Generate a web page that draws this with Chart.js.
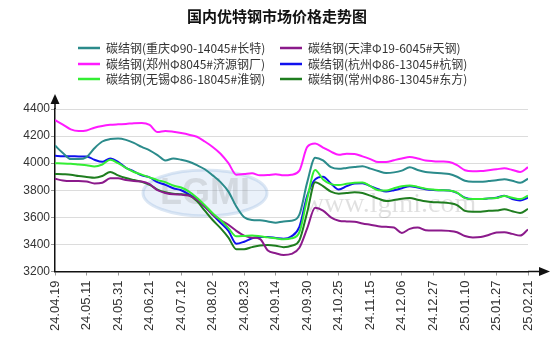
<!DOCTYPE html>
<html>
<head>
<meta charset="utf-8">
<script src="https://cdn.jsdelivr.net/npm/chart.js@4.4.1/dist/chart.umd.min.js"></script>
<style>
  html, body { margin: 0; padding: 0; background: #fff; }
  #wrap { width: 554px; height: 346px; }
</style>
</head>
<body>
<div id="wrap"><canvas id="steelChart" width="554" height="346"></canvas></div>
<script>
// tick labels on the x axis (one every 4 samples)
const dateLabels = ['24.04.19','24.05.11','24.05.31','24.06.21','24.07.12','24.08.02','24.08.23','24.09.14',
    '24.09.30','24.10.25','24.11.15','24.12.06','24.12.27','25.01.10','25.01.27','25.02.21'];
const STEP = 4;

const seriesNames = [
    '碳结钢(重庆Φ90-14045#长特)',
    '碳结钢(天津Φ19-6045#天钢)',
    '碳结钢(郑州Φ8045#济源钢厂)',
    '碳结钢(杭州Φ86-13045#杭钢)',
    '碳结钢(无锡Φ86-18045#淮钢)',
    '碳结钢(常州Φ86-13045#东方)'
];
const seriesColors = ['#2b8b8b', '#8b1a8b', '#ff1aff', '#1010ee', '#33ee33', '#1f7d1f'];

const chongqing = [4130,4075,4030,4030,4045,4110,4160,4178,4182,4172,4150,4120,4095,4060,4020,4035,
    4025,4010,3985,3955,3910,3860,3790,3680,3600,3580,3578,3570,3560,3570,3575,3620,3860,4040,4020,3970,
    3958,3965,3972,3978,3960,3942,3928,3932,3945,3970,3950,3935,3930,3925,3920,3900,3870,3862,3862,3868,
    3873,3882,3870,3855,3885];
const tianjin = [3885,3872,3868,3868,3865,3850,3855,3888,3888,3875,3868,3865,3845,3800,3780,3770,
    3768,3760,3730,3680,3620,3580,3545,3500,3465,3450,3440,3355,3335,3322,3330,3375,3520,3670,3650,3600,
    3575,3570,3568,3555,3545,3535,3530,3525,3485,3515,3525,3505,3502,3502,3500,3490,3462,3452,3455,3470,
    3488,3490,3478,3465,3510];
const zhengzhou = [4318,4285,4250,4238,4242,4262,4275,4283,4287,4290,4295,4296,4282,4230,4238,4232,
    4222,4210,4195,4160,4120,4070,4000,3915,3920,3925,3910,3912,3918,3910,3915,3945,4120,4145,4115,4085,
    4062,4070,4068,4050,4030,4008,4008,4022,4035,4045,4035,4020,4015,4012,4008,3985,3948,3940,3942,3948,
    3955,3962,3950,3935,3970];
const hangzhou = [4055,4052,4052,4050,4050,4025,4010,4035,4010,3965,3940,3910,3895,3860,3840,3815,
    3800,3770,3735,3680,3620,3560,3500,3405,3420,3445,3455,3455,3448,3442,3460,3530,3760,3880,3900,3850,
    3805,3830,3850,3852,3830,3808,3790,3800,3815,3830,3820,3808,3802,3800,3798,3780,3745,3735,3735,3740,
    3745,3760,3735,3725,3745];
const wuxi = [4000,3998,3995,3990,3985,3975,3990,4025,4000,3965,3935,3915,3895,3875,3860,3835,
    3820,3790,3745,3690,3630,3580,3520,3460,3462,3465,3460,3452,3445,3438,3445,3490,3740,3950,3880,3845,
    3838,3848,3855,3858,3830,3800,3798,3815,3830,3836,3825,3812,3805,3800,3798,3782,3742,3735,3735,3740,
    3742,3758,3745,3735,3760];
const changzhou = [3920,3918,3915,3905,3898,3892,3905,3935,3910,3890,3875,3862,3840,3805,3785,3775,
    3770,3762,3720,3650,3580,3520,3450,3365,3365,3380,3392,3395,3390,3380,3390,3430,3640,3860,3830,3790,
    3775,3780,3785,3780,3760,3738,3720,3728,3738,3742,3730,3718,3712,3710,3705,3690,3648,3642,3642,3648,
    3650,3660,3645,3632,3662];

const allSeries = [chongqing, tianjin, zhengzhou, hangzhou, wuxi, changzhou];
const drawOrder = [1, 1, 1, 2, 0, 1];

const datasets = allSeries.map((vals, i) => ({
    label: seriesNames[i],
    data: vals.map((v, k) => ({ x: k, y: v })),
    borderColor: seriesColors[i],
    backgroundColor: seriesColors[i],
    borderWidth: 2,
    pointRadius: 0,
    cubicInterpolationMode: 'monotone',
    order: drawOrder[i]
}));

// title, two-column legend, watermark and axis arrows
const decorPlugin = {
    id: 'decor',
    beforeDatasetsDraw(chart) {
        const ctx = chart.ctx;
        ctx.save();
        ctx.fillStyle = 'rgba(185,210,238,0.3)';
        ctx.strokeStyle = 'rgba(140,175,220,0.3)';
        ctx.lineWidth = 3;
        ctx.beginPath();
        ctx.ellipse(205, 193, 62, 23, 0, 0, Math.PI * 2);
        ctx.fill();
        ctx.stroke();
        ctx.font = 'bold 36px "Liberation Sans"';
        ctx.fillStyle = 'rgba(130,130,130,0.22)';
        ctx.textAlign = 'center';
        ctx.textBaseline = 'middle';
        ctx.fillText('LGMI', 205, 194);
        ctx.font = '28px "Liberation Serif"';
        ctx.fillStyle = 'rgba(0,0,0,0.12)';
        ctx.textBaseline = 'alphabetic';
        ctx.fillText('www.lgmi.com', 390, 212);
        ctx.restore();
    },
    afterDraw(chart) {
        const ctx = chart.ctx;
        const area = chart.chartArea;
        ctx.save();
        ctx.fillStyle = '#111';
        ctx.font = 'bold 15px "Noto Sans CJK SC"';
        ctx.textAlign = 'center';
        ctx.textBaseline = 'middle';
        ctx.fillText('国内优特钢市场价格走势图', 277, 16);

        ctx.font = '12px "Noto Sans CJK SC"';
        ctx.textAlign = 'left';
        ctx.fillStyle = '#333';
        const colX = [78, 280];
        const rowY = [48, 64, 79];
        seriesNames.forEach((name, i) => {
            const cx = colX[i % 2];
            const cy = rowY[Math.floor(i / 2)];
            ctx.strokeStyle = seriesColors[i];
            ctx.lineWidth = 2.5;
            ctx.beginPath();
            ctx.moveTo(cx, cy);
            ctx.lineTo(cx + 22, cy);
            ctx.stroke();
            ctx.fillText(name, cx + 28, cy);
        });

        // axis arrows
        ctx.strokeStyle = '#111';
        ctx.fillStyle = '#111';
        ctx.lineWidth = 1.5;
        ctx.beginPath();
        ctx.moveTo(area.left, area.top);
        ctx.lineTo(area.left, 102);
        ctx.moveTo(area.right, area.bottom);
        ctx.lineTo(540, area.bottom);
        ctx.stroke();
        ctx.beginPath();
        ctx.moveTo(area.left, 94);
        ctx.lineTo(area.left - 4.5, 104);
        ctx.lineTo(area.left + 4.5, 104);
        ctx.closePath();
        ctx.fill();
        ctx.beginPath();
        ctx.moveTo(550, area.bottom);
        ctx.lineTo(539, area.bottom - 4.5);
        ctx.lineTo(539, area.bottom + 4.5);
        ctx.closePath();
        ctx.fill();
        ctx.restore();
    }
};

new Chart(document.getElementById('steelChart'), {
    type: 'line',
    data: { datasets: datasets },
    options: {
        responsive: false,
        animation: false,
        layout: { padding: { top: 109, right: 26, left: 0, bottom: 0 } },
        plugins: {
            legend: { display: false },
            title: { display: false },
            tooltip: { enabled: false }
        },
        scales: {
            x: {
                type: 'linear',
                min: 0,
                max: (dateLabels.length - 1) * STEP,
                afterFit(scale) { scale.height = 74.5; },
                afterBuildTicks(scale) {
                    scale.ticks = dateLabels.map((_, i) => ({ value: i * STEP }));
                },
                ticks: {
                    autoSkip: false,
                    maxRotation: 90,
                    minRotation: 90,
                    padding: 5,
                    color: '#333',
                    font: { family: '"Liberation Sans"', size: 13 },
                    callback: (v) => dateLabels[Math.round(v / STEP)]
                },
                grid: {
                    drawOnChartArea: false,
                    drawTicks: true,
                    tickLength: 4,
                    tickColor: '#999'
                },
                border: { color: '#111', width: 1.5 }
            },
            y: {
                min: 3200,
                max: 4400,
                afterFit(scale) { scale.width = 55; },
                ticks: {
                    stepSize: 200,
                    padding: 1,
                    color: '#333',
                    font: { family: '"Liberation Sans"', size: 12 },
                    callback: (v) => String(v)
                },
                grid: {
                    color: '#dcdcdc',
                    tickLength: 4,
                    tickColor: '#999'
                },
                border: { color: '#111', width: 1.5 }
            }
        }
    },
    plugins: [decorPlugin]
});
</script>
</body>
</html>
